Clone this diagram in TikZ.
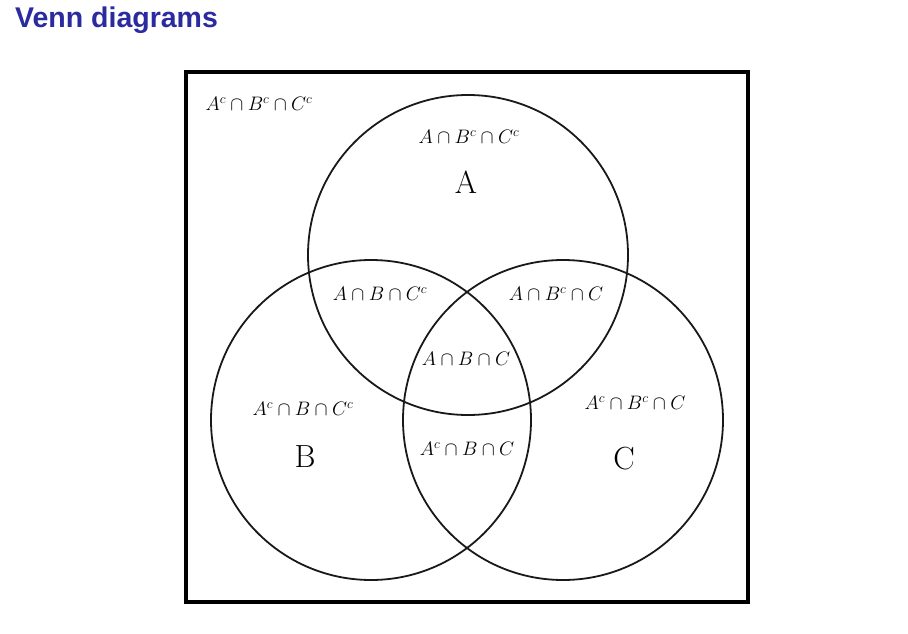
\RequirePackage{fix-cm}
\documentclass[tikz,border=0pt]{standalone}
\usepackage{fontspec}
\newfontfamily\titlefont{Liberation Sans}
\definecolor{titleblue}{RGB}{43,43,160}
\tikzset{
  setcirc/.style={draw=black!90, line width=1.8pt},
  region/.style={inner sep=0pt, font=\fontsize{19.5}{21}\selectfont},
  setname/.style={inner sep=0pt, font=\fontsize{32}{34}\selectfont},
}
\begin{document}
\begin{tikzpicture}[x=1pt,y=-1pt]
\useasboundingbox (0,0) rectangle (908,634);
\node[anchor=base west, inner sep=0pt, text=titleblue, font=\titlefont\bfseries\fontsize{28.5}{30}\selectfont] (title) at (15,28) {Venn diagrams};
\node[draw, line width=4pt, minimum width=562pt, minimum height=530pt, inner sep=0pt] (frame) at (467,337) {};
\node[setcirc, circle, minimum size=320pt, inner sep=0pt] (cA) at (468,255) {};
\node[setcirc, circle, minimum size=320pt, inner sep=0pt] (cB) at (371,420) {};
\node[setcirc, circle, minimum size=320pt, inner sep=0pt] (cC) at (563,420) {};
\node[region] (r0) at (259,104) {$A^c\cap B^c\cap C^c$};
\node[region] (r1) at (469,137) {$A\cap B^c\cap C^c$};
\node[region] (r2) at (380,294) {$A\cap B\cap C^c$};
\node[region] (r3) at (556,294) {$A\cap B^c\cap C$};
\node[region] (r4) at (466,359) {$A\cap B\cap C$};
\node[region] (r5) at (303,409) {$A^c\cap B\cap C^c$};
\node[region] (r6) at (467,449) {$A^c\cap B\cap C$};
\node[region] (r7) at (635,403) {$A^c\cap B^c\cap C$};
\node[setname] (lA) at (466,182) {A};
\node[setname] (lB) at (305,457) {B};
\node[setname] (lC) at (624,459) {C};
\end{tikzpicture}
\end{document}
